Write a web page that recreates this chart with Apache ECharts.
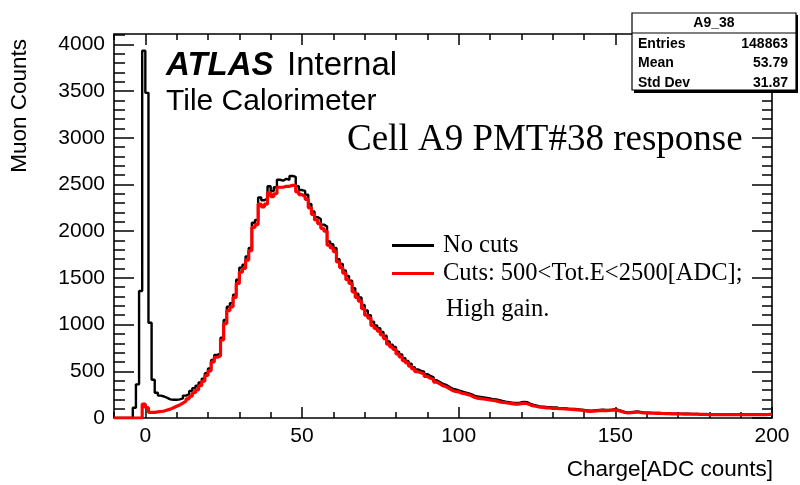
<!DOCTYPE html>
<html>
<head>
<meta charset="utf-8">
<title>A9_38</title>
<script src="https://cdn.jsdelivr.net/npm/echarts@6/dist/echarts.min.js"></script>
<style>
  html, body { margin: 0; padding: 0; background: #fff; }
  #chart-container { width: 800px; height: 485px; }
</style>
</head>
<body>
<div id="chart-container"></div>
<script>
// histogram binning: 1 ADC count per bin, from -10 to 200
const binStart = -10;
const binEnd = 200;

// bin contents, first bin is [-10, -9]
const noCutsCounts = [
  0, 0, 0, 0, 0, 0, 110, 360, 1360, 3930,
  3480, 1020, 410, 270, 240, 230, 215, 200, 195, 195,
  200, 210, 240, 255, 290, 320, 345, 380, 420, 480,
  530, 620, 675, 690, 860, 1050, 1190, 1230, 1320, 1480,
  1610, 1640, 1730, 1820, 2090, 2120, 2360, 2330, 2350, 2480,
  2430, 2470, 2550, 2540, 2560, 2550, 2590, 2580, 2480, 2440,
  2430, 2390, 2290, 2210, 2150, 2130, 2070, 2050, 1890, 1860,
  1820, 1700, 1650, 1580, 1520, 1470, 1390, 1330, 1290, 1210,
  1150, 1100, 1030, 990, 960, 920, 880, 820, 785, 760,
  710, 680, 640, 610, 580, 545, 520, 505, 495, 470,
  450, 435, 405, 385, 365, 355, 335, 315, 305, 295,
  285, 275, 265, 255, 240, 230, 225, 220, 215, 210,
  200, 198, 190, 182, 175, 170, 165, 160, 160, 168,
  172, 168, 150, 140, 133, 125, 122, 118, 115, 112,
  112, 108, 106, 104, 100, 98, 96, 93, 90, 86,
  82, 78, 80, 83, 86, 88, 85, 87, 90, 95,
  86, 76, 66, 60, 62, 66, 70, 65, 60, 58,
  57, 55, 54, 53, 52, 50, 50, 48, 47, 47,
  46, 45, 45, 44, 43, 44, 42, 41, 40, 40,
  39, 38, 38, 40, 39, 38, 40, 39, 37, 38,
  37, 38, 40, 39, 38, 37, 39, 40, 41, 42
];

const cutsCounts = [
  0, 0, 0, 0, 0, 0, 0, 0, 0, 150,
  110, 60, 60, 65, 70, 75, 85, 95, 110, 125,
  140, 160, 180, 205, 235, 270, 300, 345, 395, 455,
  505, 600, 650, 665, 835, 1010, 1150, 1190, 1290, 1440,
  1560, 1600, 1690, 1790, 2040, 2070, 2290, 2260, 2290, 2410,
  2370, 2400, 2470, 2470, 2480, 2480, 2490, 2490, 2420, 2390,
  2370, 2340, 2250, 2180, 2120, 2080, 2030, 2000, 1850, 1820,
  1780, 1670, 1610, 1550, 1480, 1440, 1350, 1290, 1250, 1170,
  1100, 1070, 990, 960, 930, 890, 850, 790, 760, 735,
  685, 655, 615, 590, 555, 525, 495, 485, 470, 445,
  425, 415, 385, 365, 345, 335, 315, 295, 285, 280,
  265, 260, 250, 240, 222, 212, 208, 203, 198, 193,
  188, 183, 173, 168, 163, 158, 153, 148, 148, 153,
  158, 152, 138, 128, 123, 116, 113, 109, 107, 104,
  104, 100, 99, 97, 94, 92, 89, 87, 84, 79,
  74, 71, 74, 77, 79, 81, 79, 81, 84, 87,
  79, 69, 59, 54, 57, 61, 64, 59, 55, 54,
  53, 51, 50, 49, 48, 47, 46, 45, 44, 44,
  43, 42, 42, 41, 40, 41, 39, 38, 38, 37,
  36, 36, 35, 37, 36, 35, 37, 36, 35, 35,
  35, 35, 37, 36, 35, 35, 36, 37, 38, 40
];

const xMajorTicks = [0, 50, 100, 150, 200];
const yMajorTicks = [0, 500, 1000, 1500, 2000, 2500, 3000, 3500, 4000];
const yMax = 4110;

const seriesNames = ['No cuts', 'Cuts: 500<Tot.E<2500[ADC];'];
const statsTitle = 'A9_38';
const statsRows = [
  ['Entries', '148863'],
  ['Mean', '53.79'],
  ['Std Dev', '31.87']
];

const sans = '"Liberation Sans", Arial, Helvetica, sans-serif';
const serif = '"Liberation Serif", "Times New Roman", serif';

// step line: point at each low edge, plus the closing edge
function toSteps(counts) {
  const pts = counts.map((c, i) => [binStart + i, c]);
  pts.push([binEnd, counts[counts.length - 1]]);
  return pts;
}

const tickStyle = () => ({ color: '#000', width: 1.5 });

// axes only draw ticks (and labels on the main ones); the frame is the grid border
function tickAxis(pos, min, max, len, extra) {
  return Object.assign({
    type: 'value', position: pos, min: min, max: max,
    axisLine: { show: false, onZero: false },
    splitLine: { show: false },
    axisLabel: { show: false },
    axisTick: { show: true, inside: true, length: len, lineStyle: tickStyle() }
  }, extra);
}

const option = {
  animation: false,
  backgroundColor: '#fff',
  grid: {
    left: 114, right: 28, top: 34, bottom: 67,
    outerBoundsMode: 'none',
    show: true, borderColor: '#000', borderWidth: 1.6
  },
  xAxis: [
    // main axis: minor ticks every 10, labels only on multiples of 50
    tickAxis('bottom', binStart, binEnd, 6, {
      interval: 10,
      axisLabel: {
        show: true, margin: 8, color: '#000', fontFamily: sans, fontSize: 21,
        formatter: v => (v % 50 === 0 ? String(v) : '')
      }
    }),
    tickAxis('bottom', binStart, binEnd, 11, {
      axisTick: { show: true, inside: true, length: 11, customValues: xMajorTicks, lineStyle: tickStyle() }
    }),
    tickAxis('top', binStart, binEnd, 6, { interval: 10 }),
    tickAxis('top', binStart, binEnd, 11, {
      axisTick: { show: true, inside: true, length: 11, customValues: xMajorTicks, lineStyle: tickStyle() }
    })
  ],
  yAxis: [
    // main axis: minor ticks every 100, labels only on multiples of 500
    tickAxis('left', 0, yMax, 11, {
      interval: 100,
      axisLabel: {
        show: true, margin: 9, color: '#000', fontFamily: sans, fontSize: 21,
        showMaxLabel: false,
        formatter: v => (v % 500 === 0 ? String(v) : '')
      }
    }),
    tickAxis('left', 0, yMax, 20, {
      axisTick: { show: true, inside: true, length: 20, customValues: yMajorTicks, lineStyle: tickStyle() }
    }),
    tickAxis('right', 0, yMax, 10, { interval: 100 }),
    tickAxis('right', 0, yMax, 20, {
      axisTick: { show: true, inside: true, length: 20, customValues: yMajorTicks, lineStyle: tickStyle() }
    })
  ],
  legend: {
    data: seriesNames,
    orient: 'vertical',
    left: 392, top: 233,
    padding: 0,
    itemWidth: 42, itemHeight: 3, itemGap: 3,
    icon: 'rect',
    selectedMode: false,
    textStyle: { fontFamily: serif, fontSize: 24.5, color: '#000', padding: [0, 0, 0, 4] }
  },
  series: [
    {
      name: seriesNames[0],
      type: 'line',
      xAxisIndex: 0, yAxisIndex: 0,
      step: 'end',
      symbol: 'none',
      color: '#000',
      lineStyle: { width: 2.4, color: '#000' },
      data: toSteps(noCutsCounts),
      z: 2
    },
    {
      name: seriesNames[1],
      type: 'line',
      xAxisIndex: 0, yAxisIndex: 0,
      step: 'end',
      symbol: 'none',
      color: '#ff0000',
      lineStyle: { width: 3.2, color: '#ff0000' },
      data: toSteps(cutsCounts),
      z: 3
    }
  ],
  graphic: [
    // axis titles
    {
      type: 'text', x: 20, y: 39, rotation: Math.PI / 2,
      style: { text: 'Muon Counts', font: '22.5px ' + sans, fill: '#000', align: 'right', verticalAlign: 'middle' }
    },
    {
      type: 'text', x: 773, y: 470,
      style: { text: 'Charge[ADC counts]', font: '22.5px ' + sans, fill: '#000', align: 'right', verticalAlign: 'middle' }
    },
    // labels inside the frame
    {
      type: 'text', x: 166, y: 66,
      style: { text: 'ATLAS', font: 'italic bold 33px ' + sans, fill: '#000', verticalAlign: 'middle' }
    },
    {
      type: 'text', x: 287, y: 66,
      style: { text: 'Internal', font: '33px ' + sans, fill: '#000', verticalAlign: 'middle' }
    },
    {
      type: 'text', x: 166, y: 102,
      style: { text: 'Tile Calorimeter', font: '30px ' + sans, fill: '#000', verticalAlign: 'middle' }
    },
    {
      type: 'text', x: 347, y: 140,
      style: { text: 'Cell A9 PMT#38 response', font: '37px ' + serif, fill: '#000', verticalAlign: 'middle' }
    },
    {
      type: 'text', x: 446, y: 310,
      style: { text: 'High gain.', font: '24.5px ' + serif, fill: '#000', verticalAlign: 'middle' }
    },
    // stats box with shadow
    {
      type: 'rect', shape: { x: 634, y: 15, width: 164, height: 78 },
      style: { fill: '#000' }, z: 10
    },
    {
      type: 'rect', shape: { x: 632, y: 13, width: 164, height: 77 },
      style: { fill: '#fff', stroke: '#000', lineWidth: 1.2 }, z: 11
    },
    {
      type: 'line', shape: { x1: 632, y1: 33, x2: 796, y2: 33 },
      style: { stroke: '#000', lineWidth: 1.2 }, z: 12
    },
    {
      type: 'text', x: 714, y: 23, z: 12,
      style: { text: statsTitle, font: 'bold 14px ' + sans, fill: '#000', align: 'center', verticalAlign: 'middle' }
    }
  ].concat(statsRows.flatMap((row, i) => [
    {
      type: 'text', x: 638, y: 44 + i * 19.5, z: 12,
      style: { text: row[0], font: 'bold 14px ' + sans, fill: '#000', verticalAlign: 'middle' }
    },
    {
      type: 'text', x: 788, y: 44 + i * 19.5, z: 12,
      style: { text: row[1], font: 'bold 14px ' + sans, fill: '#000', align: 'right', verticalAlign: 'middle' }
    }
  ]))
};

const myChart = echarts.init(document.getElementById('chart-container'));
myChart.setOption(option);
</script>
</body>
</html>
